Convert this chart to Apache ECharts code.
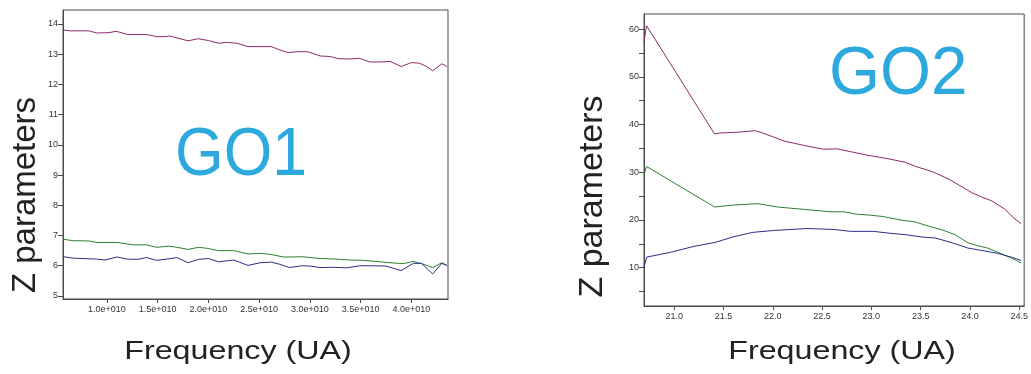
<!DOCTYPE html>
<html>
<head>
<meta charset="utf-8">
<script src="https://cdn.jsdelivr.net/npm/echarts@6/dist/echarts.min.js"></script>
<style>
html,body{margin:0;padding:0;background:#fff;}
#c{width:1031px;height:374px;}
</style>
</head>
<body>
<div id="c"></div>
<script>
// ---------- DATA ----------
// GO1 panel (x in Hz)
const go1XTicks = [1.0e10, 1.5e10, 2.0e10, 2.5e10, 3.0e10, 3.5e10, 4.0e10];
const go1YTicks = [5, 6, 7, 8, 9, 10, 11, 12, 13, 14];
const go1Top = [
  [0.567e10,13.80],[0.64e10,13.77],[0.82e10,13.77],[0.90e10,13.70],[1.02e10,13.71],[1.08e10,13.75],[1.11e10,13.74],
  [1.20e10,13.65],[1.39e10,13.65],[1.49e10,13.58],[1.57e10,13.58],[1.62e10,13.60],[1.72e10,13.51],[1.80e10,13.44],
  [1.90e10,13.51],[2.00e10,13.45],[2.10e10,13.36],[2.18e10,13.39],[2.28e10,13.36],[2.39e10,13.25],[2.54e10,13.25],
  [2.62e10,13.25],[2.70e10,13.14],[2.79e10,13.05],[2.87e10,13.08],[2.98e10,13.08],[3.10e10,12.94],[3.20e10,12.92],
  [3.28e10,12.85],[3.39e10,12.84],[3.49e10,12.86],[3.59e10,12.74],[3.69e10,12.74],[3.79e10,12.76],[3.90e10,12.59],
  [4.00e10,12.72],[4.08e10,12.70],[4.15e10,12.59],[4.21e10,12.45],[4.30e10,12.68],[4.35e10,12.59]
];
const go1Mid = [
  [0.567e10,6.88],[0.66e10,6.83],[0.82e10,6.82],[0.90e10,6.77],[1.10e10,6.77],[1.26e10,6.69],[1.39e10,6.69],
  [1.49e10,6.61],[1.61e10,6.65],[1.69e10,6.61],[1.80e10,6.54],[1.90e10,6.61],[1.98e10,6.58],[2.10e10,6.50],
  [2.25e10,6.50],[2.39e10,6.39],[2.52e10,6.41],[2.62e10,6.37],[2.74e10,6.29],[2.84e10,6.29],[2.92e10,6.30],
  [3.10e10,6.24],[3.26e10,6.22],[3.39e10,6.19],[3.52e10,6.18],[3.66e10,6.14],[3.75e10,6.11],[3.92e10,6.07],
  [4.02e10,6.14],[4.11e10,6.06],[4.21e10,5.94],[4.30e10,6.10],[4.35e10,6.01]
];
const go1Low = [
  [0.567e10,6.30],[0.67e10,6.25],[0.90e10,6.22],[0.98e10,6.19],[1.10e10,6.29],[1.20e10,6.22],[1.30e10,6.21],
  [1.39e10,6.27],[1.49e10,6.18],[1.59e10,6.22],[1.69e10,6.27],[1.80e10,6.10],[1.90e10,6.21],[2.00e10,6.24],
  [2.10e10,6.13],[2.25e10,6.19],[2.39e10,6.01],[2.51e10,6.10],[2.62e10,6.12],[2.70e10,6.05],[2.80e10,5.94],
  [2.92e10,6.00],[3.00e10,5.99],[3.10e10,5.94],[3.23e10,5.95],[3.36e10,5.93],[3.49e10,6.00],[3.59e10,6.00],
  [3.75e10,5.99],[3.90e10,5.84],[4.02e10,6.08],[4.10e10,6.08],[4.21e10,5.73],[4.30e10,6.08],[4.35e10,6.01]
];
// GO2 panel
const go2XTicks = [21.0, 21.5, 22.0, 22.5, 23.0, 23.5, 24.0, 24.5];
const go2YTicks = [5, 10, 15, 20, 25, 30, 35, 40, 45, 50, 55, 60];
const go2YLabels = [10, 20, 30, 40, 50, 60];
const go2Top = [
  [20.694,57.4],[20.72,60.7],[21.41,38.0],[21.46,38.2],[21.66,38.4],[21.82,38.7],[21.90,38.2],[22.12,36.5],
  [22.32,35.6],[22.52,34.8],[22.65,34.9],[22.79,34.3],[22.95,33.6],[23.15,32.9],[23.34,32.1],[23.45,31.2],
  [23.62,30.1],[23.78,28.6],[23.88,27.4],[24.02,25.7],[24.12,24.8],[24.22,24.0],[24.35,22.3],[24.45,20.3],[24.52,19.2]
];
const go2Mid = [
  [20.694,29.4],[20.72,31.2],[21.41,22.7],[21.59,23.1],[21.85,23.4],[22.05,22.7],[22.32,22.2],[22.59,21.7],
  [22.72,21.7],[22.85,21.2],[22.99,21.0],[23.12,20.7],[23.32,19.9],[23.44,19.6],[23.58,18.7],[23.72,17.9],
  [23.85,16.9],[23.98,15.2],[24.08,14.6],[24.18,14.1],[24.32,12.9],[24.42,12.0],[24.52,11.0]
];
const go2Low = [
  [20.694,10.0],[20.72,12.2],[20.96,13.2],[21.19,14.4],[21.42,15.3],[21.59,16.4],[21.80,17.4],[22.02,17.8],
  [22.35,18.2],[22.62,18.0],[22.79,17.6],[23.02,17.6],[23.19,17.2],[23.35,16.9],[23.52,16.4],[23.65,16.2],
  [23.82,15.2],[23.98,14.1],[24.12,13.6],[24.28,13.0],[24.42,12.2],[24.52,11.5]
];
const titles = { left: 'GO1', right: 'GO2', xName: 'Frequency (UA)', yName: 'Z parameters' };

// ---------- CHART ----------
const FONT = '"Liberation Sans", Arial, Helvetica, sans-serif';
const AX = '#4a4a4a';
const LBL = '#333';
const cRed = '#8e2a68', cGreen = '#2f7f2f', cBlue = '#2c2f86';

function xAxis(grid, min, max, ticks, fmt) {
  return {
    type: 'value', gridIndex: grid, min: min, max: max,
    axisLine: { show: true, lineStyle: { color: AX, width: 1 } },
    axisTick: { show: true, length: 4, lineStyle: { color: AX }, customValues: ticks },
    axisLabel: { customValues: ticks, formatter: fmt, fontSize: 9, color: LBL, fontFamily: FONT, margin: 6 },
    splitLine: { show: false }
  };
}
function yAxis(grid, min, max, ticks, labels) {
  return {
    type: 'value', gridIndex: grid, min: min, max: max,
    axisLine: { show: true, lineStyle: { color: AX, width: 1 } },
    axisTick: { show: true, length: 5, lineStyle: { color: AX }, customValues: ticks },
    axisLabel: { customValues: labels, fontSize: 9, color: LBL, fontFamily: FONT, margin: 5 },
    splitLine: { show: false }
  };
}
function line(data, color, xi) {
  return { type: 'line', data: data, xAxisIndex: xi, yAxisIndex: xi, showSymbol: false, symbol: 'none',
    lineStyle: { color: color, width: 1 }, silent: true };
}

const chart = echarts.init(document.getElementById('c'), null, { renderer: 'canvas' });
chart.setOption({
  animation: false,
  backgroundColor: '#fff',
  grid: [
    { left: 63, top: 10, width: 385, height: 289, show: true, borderColor: AX, borderWidth: 1 },
    { left: 644, top: 14, width: 386, height: 292, show: true, borderColor: AX, borderWidth: 1 }
  ],
  xAxis: [
    xAxis(0, 0.567e10, 4.361e10, go1XTicks, v => (v / 1e10).toFixed(1) + 'e+010'),
    xAxis(1, 20.694, 24.55, go2XTicks, v => v.toFixed(1))
  ],
  yAxis: [
    yAxis(0, 4.9, 14.46, go1YTicks, go1YTicks),
    yAxis(1, 1.96, 63.15, go2YTicks, go2YLabels)
  ],
  series: [
    line(go1Top, cRed, 0), line(go1Mid, cGreen, 0), line(go1Low, cBlue, 0),
    line(go2Top, cRed, 1), line(go2Mid, cGreen, 1), line(go2Low, cBlue, 1)
  ],
  graphic: [
    { type: 'text', x: 175, y: 156, scaleX: 0.92, style: { text: titles.left, font: '68px ' + FONT, fill: '#2ea9de', textAlign: 'left', textVerticalAlign: 'middle' } },
    { type: 'text', x: 829, y: 75, scaleX: 0.965, style: { text: titles.right, font: '68px ' + FONT, fill: '#2ea9de', textAlign: 'left', textVerticalAlign: 'middle' } },
    { type: 'text', x: 238, y: 351.5, scaleX: 1.24, style: { text: titles.xName, font: '26px ' + FONT, fill: '#222', textAlign: 'center', textVerticalAlign: 'middle' } },
    { type: 'text', x: 842, y: 352, scaleX: 1.24, style: { text: titles.xName, font: '26px ' + FONT, fill: '#222', textAlign: 'center', textVerticalAlign: 'middle' } },
    { type: 'text', x: 25.5, y: 195, rotation: Math.PI / 2, style: { text: titles.yName, font: '33px ' + FONT, fill: '#222', textAlign: 'center', textVerticalAlign: 'middle' } },
    { type: 'text', x: 593, y: 196.5, rotation: Math.PI / 2, style: { text: titles.yName, font: '34px ' + FONT, fill: '#222', textAlign: 'center', textVerticalAlign: 'middle' } }
  ]
});
</script>
</body>
</html>
